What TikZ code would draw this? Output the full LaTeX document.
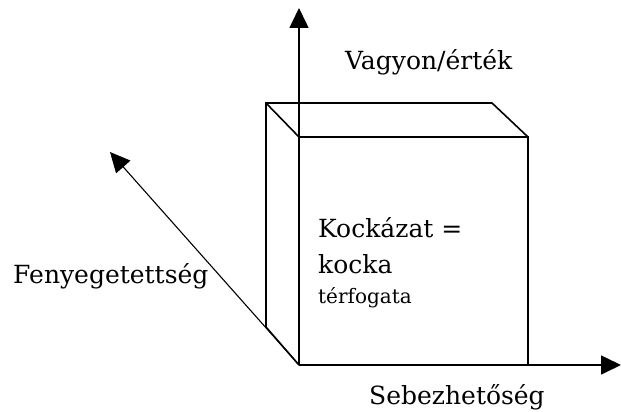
\documentclass[tikz,border=0pt]{standalone}
\usepackage{fontspec}
\setmainfont{DejaVu Serif}
\usetikzlibrary{arrows.meta}
\begin{document}
\begin{tikzpicture}[x=1pt,y=-1pt,
  edge/.style={line width=1.6pt},
  axis/.style={line width=1.6pt,-{Triangle[length=20pt,width=19pt]}},
  diagaxis/.style={line width=1.1pt,-{Triangle[length=20pt,width=19pt]}},
  lbl/.style={inner sep=0pt,anchor=base west,font=\fontsize{25}{30}\selectfont},
  small/.style={inner sep=0pt,anchor=base west,font=\fontsize{20}{24}\selectfont}]
\useasboundingbox (0,0) rectangle (621,412);
% key points
\coordinate (O) at (299,365);
\coordinate (Ytip) at (299,8);
\coordinate (Xtip) at (621,365);
\coordinate (Ztip) at (110,152);
\coordinate (FTL) at (299,137);
\coordinate (FTR) at (528,137);
\coordinate (FBR) at (528,365);
\coordinate (BTL) at (266,103);
\coordinate (BTR) at (492,103);
\coordinate (BBL) at (266,327);
% axes
\draw[axis] (O) -- (Ytip);
\draw[axis] (O) -- (Xtip);
\draw[diagaxis] (O) -- (Ztip);
% cube
\draw[edge] (FTL) -- (FTR) -- (FBR);
\draw[edge] (BBL) -- (BTL) -- (BTR) -- (FTR);
\draw[edge] (BTL) -- (FTL);
\draw[edge] (BBL) -- (O);
% labels
\node[lbl] (v) at (345,70) {Vagyon/érték};
\node[lbl] (k1) at (318,237) {Kockázat =};
\node[lbl] (k2) at (318,273) {kocka};
\node[small] (k3) at (318,303) {térfogata};
\node[lbl] (f) at (13,283) {Fenyegetettség};
\node[lbl] (s) at (369,404) {Sebezhetőség};
\end{tikzpicture}
\end{document}
